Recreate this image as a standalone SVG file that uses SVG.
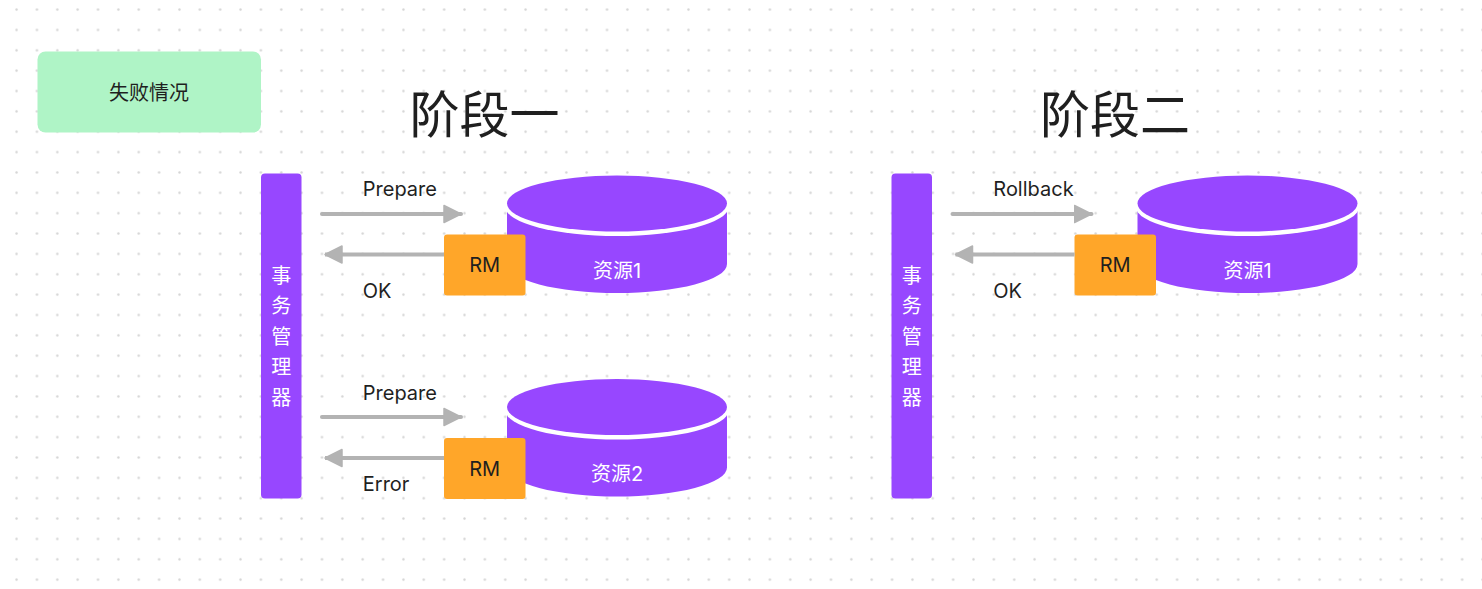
<svg xmlns="http://www.w3.org/2000/svg" width="1482" height="589" viewBox="0 0 1482 589">
<style>
text{font-family:Inter,"Noto Sans CJK SC",sans-serif;fill:#1f1f1f}
.lbl{font-size:20px}
.mid{text-anchor:middle}
.w{fill:#fff}
.bar{fill:#9747ff}
.rm{fill:#ffa629}
.title{font-size:50px;font-family:Inter,"Noto Sans CJK SC",sans-serif}
.arrow{fill:none;stroke:#b3b3b3;stroke-width:4;stroke-linecap:round;marker-end:url(#ah)}
</style>
<defs>
<pattern id="dots" x="6.4" y="-0.6" width="20.36" height="20.36" patternUnits="userSpaceOnUse"><circle cx="10.18" cy="10.18" r="1.2" fill="#d4d4d4"/></pattern>
<marker id="ah" markerUnits="userSpaceOnUse" markerWidth="20" markerHeight="22" refX="18" refY="10" orient="auto"><path d="M1 1.5 L18 10 L1 18.5Z" fill="#b3b3b3" stroke="#b3b3b3" stroke-width="1.5" stroke-linejoin="round"/></marker>
<g id="cyl"><path class="bar" d="M0.500 0V59A110 29 0 0 0 220.500 59V0Z"/><ellipse cx="110.500" cy="2" rx="111.500" ry="29" fill="#fff"/><ellipse class="bar" cx="110.500" cy="-1.500" rx="110" ry="28"/></g>
</defs>
<rect width="1482" height="589" fill="#fff"/>
<rect width="1482" height="589" fill="url(#dots)"/>
<g id="legend"><rect x="37.500" y="51.500" width="223.500" height="81" rx="8" fill="#aff4c6"/><text class="lbl mid" x="149" y="99.700">失败情况</text></g>
<text class="title mid" x="484.500" y="133" id="t1">阶段一</text>
<text class="title mid" x="1115" y="133" id="t2">阶段二</text>
<g id="tm1"><rect class="bar" x="261" y="173.500" width="40.500" height="325" rx="4"/>
<text class="lbl mid w" x="281.300" y="282.700">事</text><text class="lbl mid w" x="281.300" y="313.200">务</text><text class="lbl mid w" x="281.300" y="343.700">管</text><text class="lbl mid w" x="281.300" y="374.200">理</text><text class="lbl mid w" x="281.300" y="404.700">器</text></g>
<g id="tm2"><rect class="bar" x="891.500" y="173.500" width="40.500" height="325" rx="4"/>
<text class="lbl mid w" x="911.800" y="282.700">事</text><text class="lbl mid w" x="911.800" y="313.200">务</text><text class="lbl mid w" x="911.800" y="343.700">管</text><text class="lbl mid w" x="911.800" y="374.200">理</text><text class="lbl mid w" x="911.800" y="404.700">器</text></g>
<g id="res1"><use href="#cyl" x="506.500" y="205"/><text class="lbl mid w" x="617" y="277.700">资源1</text></g>
<g id="res2"><use href="#cyl" x="506.500" y="408.500"/><text class="lbl mid w" x="617" y="481">资源2</text></g>
<g id="res3"><use href="#cyl" x="1137" y="205"/><text class="lbl mid w" x="1247.500" y="277.700">资源1</text></g>
<g id="rm1"><rect class="rm" x="444" y="234.500" width="81.500" height="61" rx="3"/><text class="lbl mid" x="484.700" y="272">RM</text></g>
<g id="rm2"><rect class="rm" x="444" y="438" width="81.500" height="61" rx="3"/><text class="lbl mid" x="484.700" y="475.500">RM</text></g>
<g id="rm3"><rect class="rm" x="1074.500" y="234.500" width="81.500" height="61" rx="3"/><text class="lbl mid" x="1115.200" y="272">RM</text></g>
<g id="connectors">
<path class="arrow" d="M322 214H461"/>
<path class="arrow" d="M444 254.500H325" style="stroke-linecap:butt"/>
<path class="arrow" d="M322 417H461"/>
<path class="arrow" d="M444 458H325" style="stroke-linecap:butt"/>
<path class="arrow" d="M952.500 214H1091.500"/>
<path class="arrow" d="M1074.500 254.500H955.500" style="stroke-linecap:butt"/>
</g>
<g id="labels">
<text class="lbl" x="362.800" y="196">Prepare</text>
<text class="lbl" x="362.800" y="298">OK</text>
<text class="lbl" x="362.800" y="399.500">Prepare</text>
<text class="lbl" x="362.800" y="491">Error</text>
<text class="lbl" x="993.300" y="196">Rollback</text>
<text class="lbl" x="993.300" y="298">OK</text>
</g>
</svg>
